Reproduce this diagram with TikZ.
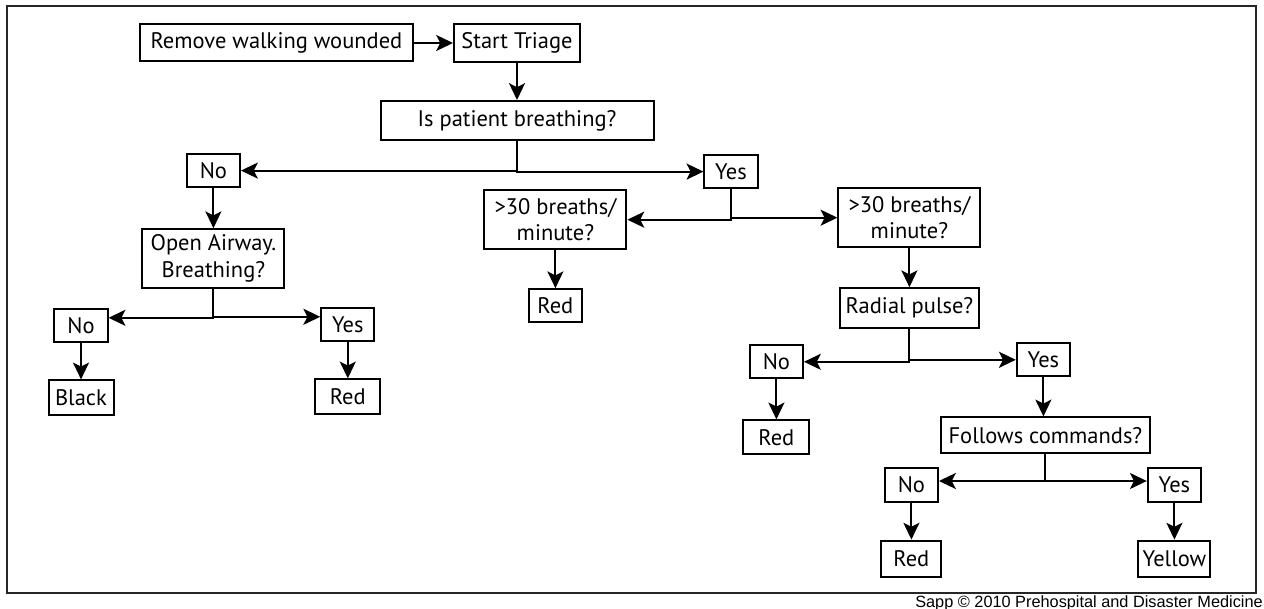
\documentclass[tikz,border=0pt]{standalone}
\usepackage{fontspec}
\setmainfont{PT Sans}
\newfontfamily\creditfont{Liberation Sans}
\usetikzlibrary{positioning,arrows.meta}

\begin{document}
\begin{tikzpicture}[
    >={Stealth[length=0.42cm,width=0.4cm,inset=0.1cm]},
    every node/.style={font=\fontsize{16}{19}\selectfont},
    box/.style={
        draw, line width=0.05cm, inner sep=1pt, align=center,
        minimum width=#1, minimum height=0.83cm
    },
    box/.default=1.33cm,
    arr/.style={->, line width=0.05cm},
]

% Page size and outer frame
\useasboundingbox (0,0) rectangle (31.6,-15.225);
\draw[line width=0.035cm, black!85] (0.17,-0.15) rectangle (31.4,-14.825);

% Start of triage
\node[box=3.15cm, minimum height=0.95cm] (start) at (12.925,-1.075) {Start Triage};
\node[box=6.825cm, minimum height=0.925cm, left=0.975cm of start] (remove) {Remove walking wounded};
\draw[arr] (remove) -- (start);

\node[box=6.825cm, minimum height=0.975cm, below=0.925cm of start] (breathing) {Is patient breathing?};
\draw[arr] (start) -- (breathing);

\node[box, below=0.3cm of breathing, xshift=-7.59cm] (no1) {No};
\node[box, below=0.325cm of breathing, xshift=5.35cm] (yes1) {Yes};
\draw[arr] (breathing.south) |- (no1);
\draw[arr] (breathing.south) |- (yes1);

% === NO path: open airway ===
\node[box=3.55cm, minimum height=1.475cm, below=1cm of no1] (airway) {Open Airway.\\Breathing?};
\draw[arr] (no1) -- (airway);

\node[box, below=0.475cm of airway, xshift=-3.31cm] (no2) {No};
\node[box, below=0.45cm of airway, xshift=3.36cm] (yes2) {Yes};
\draw[arr] (airway.south) |- ([yshift=0.2cm]no2.east);
\draw[arr] (airway.south) |- ([yshift=0.2cm]yes2.west);

\node[box=1.625cm, minimum height=0.875cm, below=0.9cm of no2] (black) {Black};
\node[box=1.625cm, minimum height=0.875cm, below=0.9cm of yes2] (red1) {Red};
\draw[arr] (no2) -- (black);
\draw[arr] (yes2) -- (red1);

% === YES path: respiratory rate ===
\node[box=3.55cm, minimum height=1.475cm, below=0cm of yes1, xshift=-4.39cm] (rateL) {>30 breaths/\\minute?};
\node[box=3.55cm, minimum height=1.475cm, right=5.25cm of rateL, yshift=0.05cm] (rateR) {>30 breaths/\\minute?};
\draw[arr] (yes1.south) |- (rateL);
\draw[arr] (yes1.south) |- (rateR);

\node[box, below=0.95cm of rateL] (red2) {Red};
\draw[arr] (rateL) -- (red2);

% Radial pulse
\node[box=3.475cm, minimum height=1cm, below=0.975cm of rateR] (pulse) {Radial pulse?};
\draw[arr] (rateR) -- (pulse);

\node[box, below=0.375cm of pulse, xshift=-3.325cm] (no3) {No};
\node[box, below=0.325cm of pulse, xshift=3.35cm] (yes3) {Yes};
\draw[arr] (pulse.south) |- (no3);
\draw[arr] (pulse.south) |- (yes3);

\node[box=1.65cm, minimum height=0.85cm, below=1cm of no3] (red3) {Red};
\draw[arr] (no3) -- (red3);

% Follows commands
\node[box=5.225cm, minimum height=0.9cm, below=0.975cm of yes3, xshift=0.05cm] (commands) {Follows commands?};
\draw[arr] (yes3) -- (yes3 |- commands.north);

\node[box, below=0.325cm of commands, xshift=-3.35cm] (no4) {No};
\node[box, below=0.325cm of commands, xshift=3.225cm] (yes4) {Yes};
\draw[arr] (commands.south) |- ([yshift=0.1cm]no4.east);
\draw[arr] (commands.south) |- ([yshift=0.1cm]yes4.west);

\node[box=1.5cm, minimum height=0.9cm, below=0.925cm of no4] (red4) {Red};
\node[box=1.8cm, minimum height=0.9cm, below=0.925cm of yes4] (yellow) {Yellow};
\draw[arr] (no4) -- (red4);
\draw[arr] (yes4) -- (yellow);

% Credit line
\node[font=\creditfont\fontsize{11.6}{13}\selectfont, anchor=east, inner sep=0pt] (credit) at (31.575,-15.07)
    {Sapp © 2010 Prehospital and Disaster Medicine};

\end{tikzpicture}
\end{document}
